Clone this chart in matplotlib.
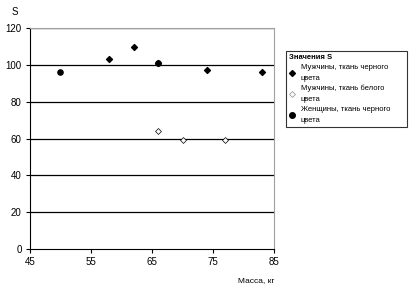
import matplotlib
matplotlib.use("Agg")
import matplotlib.pyplot as plt
from matplotlib.lines import Line2D

# men, black fabric
men_black_x = [58, 62, 66, 74, 83]
men_black_y = [103, 110, 101, 97, 96]
# men, white fabric
men_white_x = [66, 70, 77]
men_white_y = [64, 59, 59]
# women, black fabric
women_black_x = [50, 66]
women_black_y = [96, 101]

x_ticks = [45, 55, 65, 75, 85]
y_ticks = [0, 20, 40, 60, 80, 100, 120]

labels = [
    "Мужчины, ткань черного\nцвета",
    "Мужчины, ткань белого\nцвета",
    "Женщины, ткань черного\nцвета",
]

plt.rcParams["font.family"] = ["Liberation Sans", "DejaVu Sans"]

fig = plt.figure(figsize=(4.16, 2.93), dpi=100)
ax = fig.add_axes([0.072, 0.150, 0.587, 0.754])

for y in y_ticks[1:]:
    ax.axhline(y, color="black", lw=0.9, zorder=1)

ax.scatter(men_black_x, men_black_y, marker="D", s=9, c="black", zorder=3)
ax.scatter(men_white_x, men_white_y, marker="D", s=9, facecolors="white",
           edgecolors="black", linewidths=0.5, zorder=3)
ax.scatter(women_black_x, women_black_y, marker="o", s=14, c="black", zorder=3)

ax.set_xlim(45, 85)
ax.set_ylim(0, 120)
ax.set_xticks(x_ticks)
ax.set_yticks(y_ticks)
ax.tick_params(labelsize=7, length=3, width=0.8, color="black", pad=3)
for side in ["top", "right"]:
    ax.spines[side].set_color("#a0a0a0")
    ax.spines[side].set_linewidth(0.8)
ax.spines["left"].set_linewidth(0.8)
ax.spines["bottom"].set_linewidth(0.8)

fig.text(0.036, 0.975, "S", fontsize=7, ha="center", va="top")
fig.text(0.659, 0.03, "Масса, кг", fontsize=6, ha="right", va="bottom")

handles = [
    Line2D([], [], ls="", marker="D", ms=3, color="black"),
    Line2D([], [], ls="", marker="D", ms=3, mfc="white", mec="#888888", mew=0.5),
    Line2D([], [], ls="", marker="o", ms=4, color="black"),
]
leg = fig.legend(handles, labels, title="Значения S", loc="upper left",
                 bbox_to_anchor=(0.6875, 0.826, 0.291, 0.0), mode="expand",
                 fontsize=5.5,
                 title_fontproperties={"size": 5.5, "weight": "bold"},
                 frameon=True, fancybox=False, edgecolor="black",
                 handlelength=0.8, handletextpad=0.8, borderpad=0.35,
                 labelspacing=0.45, borderaxespad=0)
leg.get_frame().set_linewidth(0.8)
leg._legend_box.align = "left"
for t in leg.get_texts():
    t.set_linespacing(1.7)

fig.savefig("out.png", dpi=100)
